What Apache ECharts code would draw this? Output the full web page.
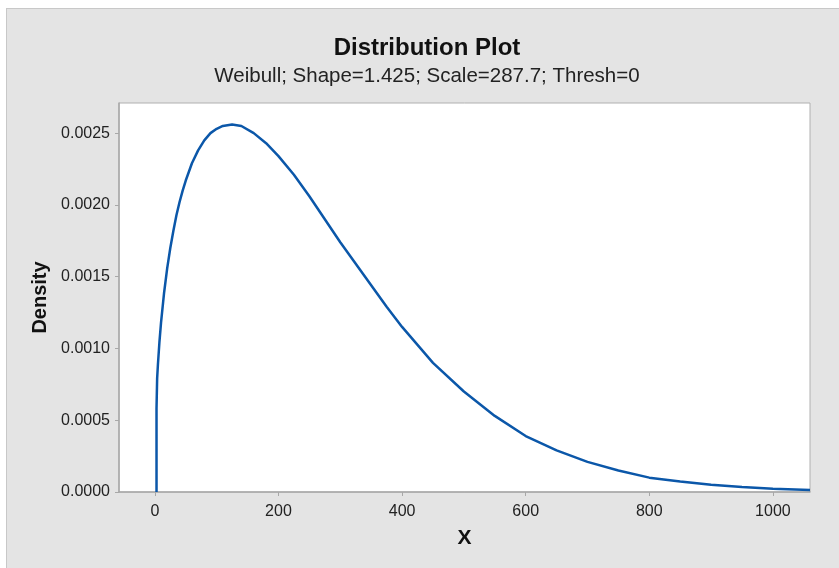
<!DOCTYPE html>
<html>
<head>
<meta charset="utf-8">
<script src="https://cdn.jsdelivr.net/npm/echarts@6/dist/echarts.min.js"></script>
<style>
  html, body { margin: 0; padding: 0; background: #fff; }
  #wrap { position: relative; width: 839px; height: 568px; overflow: hidden; }
  #chart {
    position: absolute; left: 6px; top: 8px;
    width: 833px; height: 560px;
    border-left: 1px solid #c8c8c8; border-top: 1px solid #c8c8c8;
    background: #e4e4e4;
  }
</style>
</head>
<body>
<div id="wrap"><div id="chart"></div></div>
<script>
// values
var xValues = [2.7, 2.7, 3.7, 5, 7.5, 10, 15, 20, 25, 30, 35, 40, 45, 50, 60, 70, 80, 90, 100, 110, 125,
  140, 160, 180, 200, 225, 250, 275, 300, 325, 350, 375, 400, 450, 500, 550, 600, 650, 700, 750,
  800, 850, 900, 950, 1000, 1060];
var densityValues = [0, 0.00058, 0.00079, 0.00089, 0.00105, 0.00118, 0.00139, 0.00156, 0.00170, 0.00182,
  0.00193, 0.00202, 0.00210, 0.00217, 0.00229, 0.00238, 0.00245, 0.00250, 0.00253, 0.00255, 0.00256,
  0.00255, 0.00250, 0.00243, 0.00234, 0.00221, 0.00206, 0.00190, 0.00174, 0.00159, 0.00144, 0.00129,
  0.00115, 0.00090, 0.00070, 0.00053, 0.00039, 0.00029, 0.00021, 0.00015, 0.00010, 0.000073,
  0.000050, 0.000034, 0.000023, 0.000014];
var xTicks = [0, 200, 400, 600, 800, 1000];
var yTicks = [0, 0.0005, 0.0010, 0.0015, 0.0020, 0.0025];

var titleText = 'Distribution Plot';
var subTitleText = 'Weibull; Shape=1.425; Scale=287.7; Thresh=0';

var points = xValues.map(function (x, i) { return [x, densityValues[i]]; });

var chart = echarts.init(document.getElementById('chart'));
var font = 'Liberation Sans, Arial, sans-serif';

chart.setOption({
  animation: false,
  backgroundColor: '#e4e4e4',
  textStyle: { fontFamily: font },
  graphic: [
    {
      type: 'text', x: 420, y: 39,
      style: {
        text: titleText, textAlign: 'center', textVerticalAlign: 'middle',
        fill: '#111', font: 'bold 24px ' + font
      }
    },
    {
      type: 'text', x: 420, y: 67,
      style: {
        text: subTitleText, textAlign: 'center', textVerticalAlign: 'middle',
        fill: '#222', font: '20.5px ' + font
      }
    }
  ],
  grid: {
    left: 112, top: 94, width: 691, height: 389,
    show: true, backgroundColor: '#fff', borderColor: '#b0b0b0', borderWidth: 1
  },
  xAxis: {
    type: 'value',
    min: -58, max: 1060,
    name: 'X', nameLocation: 'middle', nameGap: 36,
    nameTextStyle: { fontSize: 21, fontWeight: 'bold', color: '#111' },
    splitLine: { show: false },
    axisLine: { show: true, onZero: false, lineStyle: { color: '#a8a8a8', width: 1.5 } },
    axisTick: { show: true, customValues: xTicks, length: 4, lineStyle: { color: '#a8a8a8' } },
    axisLabel: {
      customValues: xTicks, fontSize: 16, color: '#222', margin: 12,
      formatter: function (v) { return String(v); }
    }
  },
  yAxis: {
    type: 'value',
    min: 0, max: 0.00271,
    name: 'Density', nameLocation: 'middle', nameGap: 63,
    nameTextStyle: { fontSize: 20, fontWeight: 'bold', color: '#111' },
    splitLine: { show: false },
    axisLine: { show: true, onZero: false, lineStyle: { color: '#a8a8a8', width: 1.5 } },
    axisTick: { show: true, customValues: yTicks, length: 4, lineStyle: { color: '#a8a8a8' } },
    axisLabel: {
      customValues: yTicks, fontSize: 16, color: '#222', margin: 9,
      formatter: function (v) { return v.toFixed(4); }
    }
  },
  series: [
    {
      type: 'line',
      data: points,
      showSymbol: false,
      smooth: false,
      lineStyle: { color: '#0b57a9', width: 2.5 },
      clip: true
    }
  ]
});
</script>
</body>
</html>
